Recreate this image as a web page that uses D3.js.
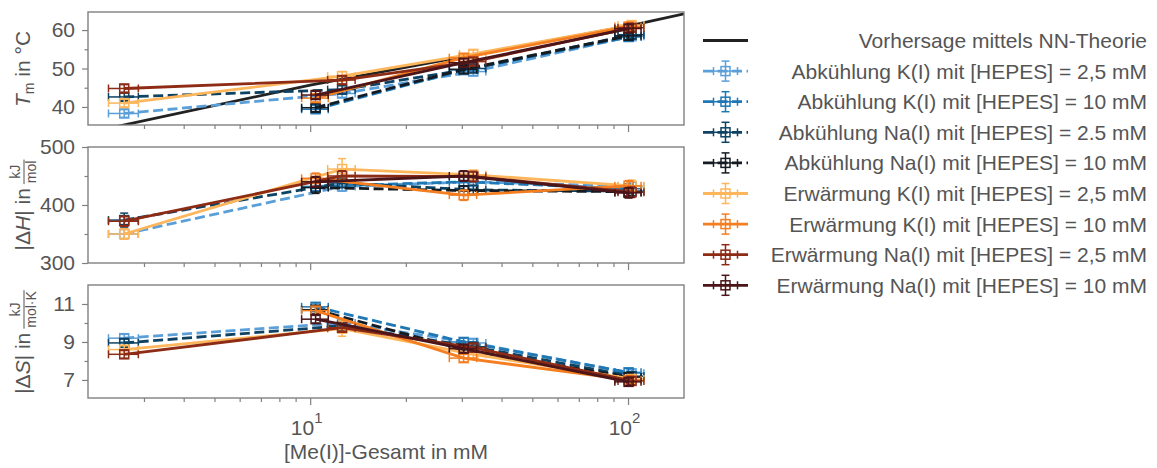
<!DOCTYPE html>
<html>
<head>
<meta charset="utf-8">
<script src="https://cdn.jsdelivr.net/npm/d3@7"></script>
<style>
  body { margin: 0; background: #fff; }
  svg { font-family: "Liberation Sans", Arial, sans-serif; }
</style>
</head>
<body>
<svg id="chart" width="1157" height="468"></svg>
<script>
// total Me(I) concentration of the two buffer series (mM)
const xHepes25 = [2.6, 12.6, 32.6, 102.6];
const xHepes10 = [10.4, 30.4, 100.4];
const xErrHepes25 = [0.28, 1.25, 3.1, 9.6];
const xErrHepes10 = [1.0, 3.0, 9.5];

const seriesLabels = [
    'Abkühlung K(I) mit [HEPES] = 2,5 mM',
    'Abkühlung K(I) mit [HEPES] = 10 mM',
    'Abkühlung Na(I) mit [HEPES] = 2.5 mM',
    'Abkühlung Na(I) mit [HEPES] = 10 mM',
    'Erwärmung K(I) mit [HEPES] = 2,5 mM',
    'Erwärmung K(I) mit [HEPES] = 10 mM',
    'Erwärmung Na(I) mit [HEPES] = 2,5 mM',
    'Erwärmung Na(I) mit [HEPES] = 10 mM'
];
const theoryLabel = 'Vorhersage mittels NN-Theorie';

// melting temperature (°C)
const tmValues = [
    [38.3, 43.5, 49.2, 58.4],
    [39.4, 49.6, 58.2],
    [42.6, 44.5, 50.0, 58.8],
    [39.8, 49.8, 58.5],
    [41.0, 48.0, 53.8, 61.3],
    [42.3, 52.8, 60.9],
    [44.8, 47.0, 51.8, 60.6],
    [43.1, 51.5, 60.4]
];
const tmErrors = [
    [1.0, 1.0, 1.0, 1.0],
    [1.0, 1.0, 1.0],
    [1.0, 1.0, 1.0, 1.0],
    [1.0, 1.0, 1.0],
    [1.0, 1.2, 1.0, 1.0],
    [1.0, 1.0, 1.0],
    [1.0, 1.0, 1.0, 1.0],
    [1.0, 1.0, 1.0]
];

// |dH| (kJ/mol)
const dhValues = [
    [350, 432, 440, 432],
    [432, 440, 428],
    [374, 438, 426, 424],
    [430, 425, 423],
    [350, 462, 452, 433],
    [446, 417, 433],
    [372, 450, 449, 422],
    [440, 450, 421]
];
const dhErrors = [
    [9, 8, 8, 8],
    [8, 8, 8],
    [12, 8, 8, 8],
    [10, 8, 8],
    [9, 18, 8, 10],
    [9, 9, 9],
    [9, 9, 9, 9],
    [9, 9, 9]
];

// |dS| (kJ/(mol K))
const dsValues = [
    [9.2, 10.0, 8.95, 7.35],
    [10.85, 9.0, 7.4],
    [8.95, 9.85, 8.75, 7.2],
    [10.7, 8.6, 7.15],
    [8.6, 9.7, 8.35, 7.05],
    [10.65, 8.15, 7.0],
    [8.35, 9.75, 8.7, 6.95],
    [10.2, 8.65, 6.9]
];
const dsErrors = [
    [0.2, 0.2, 0.2, 0.2],
    [0.2, 0.2, 0.2],
    [0.2, 0.2, 0.2, 0.2],
    [0.2, 0.2, 0.2],
    [0.2, 0.4, 0.2, 0.2],
    [0.2, 0.2, 0.2],
    [0.2, 0.2, 0.2, 0.2],
    [0.2, 0.2, 0.2]
];

// nearest-neighbour prediction for Tm
const theoryX = [2, 10, 30, 100, 150];
const theoryY = [33.3, 45.7, 53.0, 61.0, 64.2];

// tick values
const tmTicks = [40, 50, 60];
const tmMinorTicks = [45, 55];
const dhTicks = [300, 400, 500];
const dhMinorTicks = [350, 450];
const dsTicks = [7, 9, 11];
const dsMinorTicks = [8, 10];
const xMajorTicks = [10, 100];
const xMinorTicks = [3, 4, 5, 6, 7, 8, 9, 20, 30, 40, 50, 60, 70, 80, 90];

const seriesColors = ['#5b9fd9', '#1f77b4', '#0e4262', '#141b22', '#fdb65c', '#f47e20', '#8d2b15', '#4b1519'];

const svg = d3.select('#chart');
const left = 88, right = 684;
const textColor = '#555';
const spineColor = '#808080';
const lineWidth = 2.8;

const x = d3.scaleLog().domain([2, 150]).range([left, right]);

const series = seriesLabels.map((label, i) => ({
    label: label,
    color: seriesColors[i],
    dashed: i < 4,
    xs: i % 2 === 0 ? xHepes25 : xHepes10,
    xErr: i % 2 === 0 ? xErrHepes25 : xErrHepes10
}));

const panels = [
    { values: tmValues, errors: tmErrors, top: 12, bottom: 125, domain: [35.3, 64.7], ticks: tmTicks, minor: tmMinorTicks },
    { values: dhValues, errors: dhErrors, top: 147, bottom: 263, domain: [300, 500], ticks: dhTicks, minor: dhMinorTicks },
    { values: dsValues, errors: dsErrors, top: 285, bottom: 398, domain: [6.05, 12.0], ticks: dsTicks, minor: dsMinorTicks }
];

function styleAxis(sel) {
    sel.select('.domain').remove();
    sel.selectAll('line').attr('stroke', spineColor).attr('stroke-width', 1.2);
    sel.selectAll('text').attr('fill', textColor).attr('font-size', 21);
}

const defs = svg.append('defs');

panels.forEach((p, pi) => {
    const y = d3.scaleLinear().domain(p.domain).range([p.bottom, p.top]);
    const g = svg.append('g').attr('class', 'panel-' + pi);

    defs.append('clipPath').attr('id', 'clip' + pi)
        .append('rect')
        .attr('x', left).attr('y', p.top)
        .attr('width', right - left).attr('height', p.bottom - p.top);

    // y axis
    g.append('g').attr('transform', `translate(${left},0)`)
        .call(d3.axisLeft(y).tickValues(p.ticks).tickSize(6).tickPadding(7).tickFormat(d3.format('d')))
        .call(styleAxis);
    g.append('g').attr('transform', `translate(${left},0)`)
        .call(d3.axisLeft(y).tickValues(p.minor).tickSize(3.5).tickFormat(''))
        .call(styleAxis);

    // x axis
    const xMajor = g.append('g').attr('transform', `translate(0,${p.bottom})`)
        .call(d3.axisBottom(x).tickValues(xMajorTicks).tickSize(7).tickFormat(''))
        .call(styleAxis);
    g.append('g').attr('transform', `translate(0,${p.bottom})`)
        .call(d3.axisBottom(x).tickValues(xMinorTicks).tickSize(4).tickFormat(''))
        .call(styleAxis);

    if (pi === panels.length - 1) {
        xMajor.selectAll('.tick').each(function (d) {
            const t = d3.select(this).select('text')
                .attr('y', 37).attr('dy', null).attr('x', -4);
            t.append('tspan').text('10');
            t.append('tspan').attr('font-size', 15).attr('dy', -12).text(Math.round(Math.log10(d)));
        });
    }

    const plot = g.append('g').attr('clip-path', `url(#clip${pi})`);

    if (pi === 0) {
        const theory = theoryX.map((xv, k) => ({ x: xv, y: theoryY[k] }));
        plot.append('path')
            .datum(theory)
            .attr('fill', 'none')
            .attr('stroke', '#222')
            .attr('stroke-width', lineWidth)
            .attr('d', d3.line().x(d => x(d.x)).y(d => y(d.y)));
    }

    series.forEach((s, si) => {
        const pts = s.xs.map((xv, k) => ({
            x: xv, xe: s.xErr[k], y: p.values[si][k], ye: p.errors[si][k]
        }));
        const sg = plot.append('g');

        sg.append('path')
            .datum(pts)
            .attr('fill', 'none')
            .attr('stroke', s.color)
            .attr('stroke-width', lineWidth)
            .attr('stroke-dasharray', s.dashed ? '10,4.5' : null)
            .attr('d', d3.line().x(d => x(d.x)).y(d => y(d.y)));

        const eb = sg.selectAll('.eb').data(pts).enter().append('g')
            .attr('stroke', s.color).attr('stroke-width', 1.5).attr('fill', 'none');
        // horizontal error
        eb.append('line')
            .attr('x1', d => x(d.x - d.xe)).attr('x2', d => x(d.x + d.xe))
            .attr('y1', d => y(d.y)).attr('y2', d => y(d.y));
        eb.append('line')
            .attr('x1', d => x(d.x - d.xe)).attr('x2', d => x(d.x - d.xe))
            .attr('y1', d => y(d.y) - 4).attr('y2', d => y(d.y) + 4);
        eb.append('line')
            .attr('x1', d => x(d.x + d.xe)).attr('x2', d => x(d.x + d.xe))
            .attr('y1', d => y(d.y) - 4).attr('y2', d => y(d.y) + 4);
        // vertical error
        eb.append('line')
            .attr('x1', d => x(d.x)).attr('x2', d => x(d.x))
            .attr('y1', d => y(d.y - d.ye)).attr('y2', d => y(d.y + d.ye));
        eb.append('line')
            .attr('x1', d => x(d.x) - 4).attr('x2', d => x(d.x) + 4)
            .attr('y1', d => y(d.y - d.ye)).attr('y2', d => y(d.y - d.ye));
        eb.append('line')
            .attr('x1', d => x(d.x) - 4).attr('x2', d => x(d.x) + 4)
            .attr('y1', d => y(d.y + d.ye)).attr('y2', d => y(d.y + d.ye));
        // open square marker
        eb.append('rect')
            .attr('x', d => x(d.x) - 4.5).attr('y', d => y(d.y) - 4.5)
            .attr('width', 9).attr('height', 9);
    });

    g.append('rect')
        .attr('x', left).attr('y', p.top)
        .attr('width', right - left).attr('height', p.bottom - p.top)
        .attr('fill', 'none')
        .attr('stroke', spineColor)
        .attr('stroke-width', 1.4);
});

// x axis label
svg.append('text')
    .attr('x', (left + right) / 2).attr('y', 459)
    .attr('text-anchor', 'middle')
    .attr('font-size', 21).attr('fill', textColor)
    .text('[Me(I)]-Gesamt in mM');

// y axis labels
const tmLabel = svg.append('text')
    .attr('transform', 'translate(30,69) rotate(-90)')
    .attr('text-anchor', 'middle')
    .attr('font-size', 21).attr('fill', textColor);
tmLabel.append('tspan').attr('font-style', 'italic').text('T');
tmLabel.append('tspan').attr('font-size', 14).attr('dy', 4).text('m');
tmLabel.append('tspan').attr('dy', -4).text(' in °C');

function fracLabel(cx, cy, parts, num, den) {
    const g = svg.append('g')
        .attr('transform', `translate(${cx},${cy}) rotate(-90)`)
        .attr('fill', textColor);
    const t = g.append('text').attr('font-size', 21);
    parts.forEach(part => t.append('tspan')
        .attr('font-style', part.italic ? 'italic' : null)
        .text(part.text));
    const mainW = t.node().getComputedTextLength();
    const nt = g.append('text').attr('font-size', 14).attr('text-anchor', 'middle').attr('y', -10).text(num);
    const dt = g.append('text').attr('font-size', 14).attr('text-anchor', 'middle').attr('y', 6).text(den);
    const fw = Math.max(nt.node().getComputedTextLength(), dt.node().getComputedTextLength()) + 2;
    const total = mainW + 4 + fw;
    t.attr('x', -total / 2);
    const fx = -total / 2 + mainW + 4 + fw / 2;
    nt.attr('x', fx);
    dt.attr('x', fx);
    g.append('line')
        .attr('x1', fx - fw / 2).attr('x2', fx + fw / 2)
        .attr('y1', -6).attr('y2', -6)
        .attr('stroke', textColor).attr('stroke-width', 1);
}

fracLabel(30, 205, [{ text: '|Δ' }, { text: 'H', italic: true }, { text: '| in ' }], 'kJ', 'mol');
fracLabel(30, 342, [{ text: '|Δ' }, { text: 'S', italic: true }, { text: '| in ' }], 'kJ', 'mol·K');

// legend
const legend = svg.append('g').attr('class', 'legend');
const rowY = i => 40.5 + i * 30.6;
const hx1 = 703, hx2 = 748, hc = 725.5;

legend.append('line')
    .attr('x1', hx1).attr('x2', hx2)
    .attr('y1', rowY(0)).attr('y2', rowY(0))
    .attr('stroke', '#222').attr('stroke-width', lineWidth);
legend.append('text')
    .attr('x', 1147).attr('y', rowY(0) + 7.5)
    .attr('text-anchor', 'end').attr('font-size', 21).attr('fill', textColor)
    .text(theoryLabel);

series.forEach((s, i) => {
    const cy = rowY(i + 1);
    const lg = legend.append('g').attr('stroke', s.color).attr('fill', 'none');
    lg.append('line')
        .attr('x1', hx1).attr('x2', hx2).attr('y1', cy).attr('y2', cy)
        .attr('stroke-width', lineWidth)
        .attr('stroke-dasharray', s.dashed ? '10,4.5' : null);
    lg.append('line').attr('x1', hc - 12).attr('x2', hc + 12).attr('y1', cy).attr('y2', cy).attr('stroke-width', 1.5);
    lg.append('line').attr('x1', hc - 12).attr('x2', hc - 12).attr('y1', cy - 4).attr('y2', cy + 4).attr('stroke-width', 1.5);
    lg.append('line').attr('x1', hc + 12).attr('x2', hc + 12).attr('y1', cy - 4).attr('y2', cy + 4).attr('stroke-width', 1.5);
    lg.append('line').attr('x1', hc).attr('x2', hc).attr('y1', cy - 10).attr('y2', cy + 10).attr('stroke-width', 1.5);
    lg.append('line').attr('x1', hc - 4).attr('x2', hc + 4).attr('y1', cy - 10).attr('y2', cy - 10).attr('stroke-width', 1.5);
    lg.append('line').attr('x1', hc - 4).attr('x2', hc + 4).attr('y1', cy + 10).attr('y2', cy + 10).attr('stroke-width', 1.5);
    lg.append('rect').attr('x', hc - 4.5).attr('y', cy - 4.5).attr('width', 9).attr('height', 9).attr('stroke-width', 1.5);
    legend.append('text')
        .attr('x', 1147).attr('y', cy + 7.5)
        .attr('text-anchor', 'end').attr('font-size', 21).attr('fill', textColor)
        .text(s.label);
});
</script>
</body>
</html>
